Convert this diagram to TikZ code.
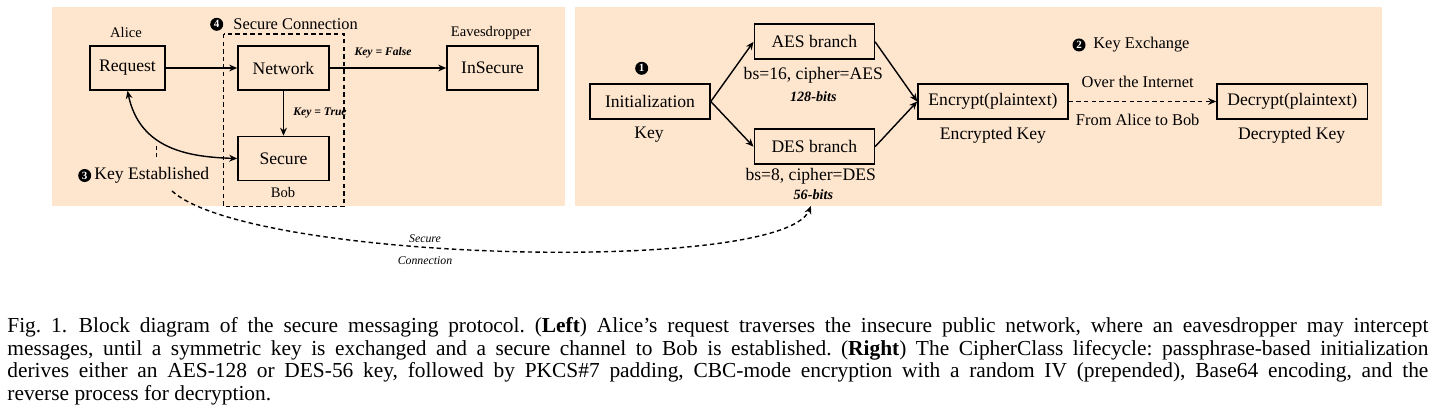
\documentclass[tikz,border=0pt]{standalone}
\usepackage{fontspec}
\setmainfont{Liberation Serif}
\usetikzlibrary{arrows.meta}
\definecolor{panelbg}{RGB}{254,229,206}
\begin{document}
\begin{tikzpicture}[x=0.5pt,y=-0.5pt,
  box/.style={draw, line width=0.8pt, inner sep=0pt, font=\fontsize{8.8}{10}\selectfont},
  lbox/.style={box, minimum height=22pt},
  rbox/.style={box, minimum height=17.5pt},
  conn/.style={-{Stealth[length=4pt,width=3.4pt]}, line width=0.7pt},
  dconn/.style={conn, dash pattern=on 2.2pt off 1.6pt},
  numc/.style={circle, fill=black, text=white, minimum size=6.5pt, inner sep=0pt, font=\fontsize{5.5}{5.5}\selectfont\bfseries},
  lbl/.style={inner sep=0pt, font=\fontsize{8.8}{10}\selectfont},
  mlbl/.style={inner sep=0pt, font=\fontsize{8.2}{10}\selectfont},
  slbl/.style={inner sep=0pt, font=\fontsize{7.3}{9}\selectfont},
  bits/.style={inner sep=0pt, font=\fontsize{7.1}{9}\selectfont\bfseries\itshape},
  keyl/.style={inner sep=0pt, font=\fontsize{5.8}{7}\selectfont\bfseries\itshape},
  itl/.style={inner sep=0pt, font=\fontsize{5.9}{7}\selectfont\itshape},
]
\useasboundingbox (0,0) rectangle (1432,417);
% panels
\fill[panelbg] (52,7) rectangle (565,206);
\fill[panelbg] (575,7) rectangle (1382,206);

% ---------- left panel ----------
\draw[line width=0.8pt, dash pattern=on 2.2pt off 1.6pt] (223.5,34) rectangle (344,206.5);
\node[lbox, minimum width=37.5pt] (req) at (127.5,68) {Request};
\node[lbox, minimum width=45.5pt] (net) at (283.5,68) {Network};
\node[lbox, minimum width=45.5pt] (ins) at (492.5,68) {InSecure};
\node[lbox, minimum width=45.5pt] (sec) at (283.5,158.5) {Secure};
\node[slbl] (alice) at (126,33) {Alice};
\node[slbl] (eaves) at (491,33) {Eavesdropper};
\node[slbl] (bob) at (283,192.5) {Bob};
\node[numc] (n4) at (216.7,24.3) {4};
\node[mlbl, anchor=west] (sc) at (233,24) {Secure Connection};
\node[keyl] (kf) at (383,52.4) {Key = False};
\node[keyl] (kt) at (320,113) {Key = True};
\node[numc] (n3) at (84.7,175.5) {3};
\node[lbl, anchor=west] (ke) at (94,175) {Key Established};

\draw[conn] (req) -- (net);
\draw[conn] (net) -- (ins);
\draw[conn] (net) -- (sec);
\draw[{Stealth[length=4pt,width=3.4pt]}-{Stealth[length=4pt,width=3.4pt]}, line width=0.7pt]
  (req.south) .. controls (140,150) and (190,157) .. (sec.west);
\coordinate (kepin) at (156.5,146);
\draw[line width=0.6pt, dash pattern=on 2pt off 1.5pt] (kepin) -- ++(0,14);

% ---------- right panel ----------
\node[rbox, minimum width=60pt] (init) at (650,101.5) {Initialization};
\node[rbox, minimum width=60pt] (aes) at (814.3,41.8) {AES branch};
\node[rbox, minimum width=60pt] (des) at (814.3,146.7) {DES branch};
\node[rbox, minimum width=75pt] (enc) at (993,101.5) {Encrypt(plaintext)};
\node[rbox, minimum width=75.3pt] (dec) at (1292.3,101.5) {Decrypt(plaintext)};
\node[numc] (n1) at (641.7,68.3) {1};
\node[lbl] (key) at (649,135) {Key};
\node[lbl] (bs16) at (813.3,75) {bs=16, cipher=AES};
\node[bits] (b128) at (813.3,96.7) {128-bits};
\node[lbl] (bs8) at (810.7,176) {bs=8, cipher=DES};
\node[bits] (b56) at (813.3,195) {56-bits};
\node[lbl] (enck) at (993,135) {Encrypted Key};
\node[lbl] (deck) at (1291.7,135) {Decrypted Key};
\node[numc] (n2) at (1079,45) {2};
\node[mlbl, anchor=west] (kx) at (1093,45) {Key Exchange};
\node[mlbl] (oti) at (1137.7,81.7) {Over the Internet};
\node[mlbl] (fab) at (1137.7,120) {From Alice to Bob};

\draw[conn] (init.east) -- (aes.west);
\draw[conn] (init.east) -- (des.west);
\draw[conn] (aes.east) -- (enc.west);
\draw[conn] (des.east) -- (enc.west);
\draw[dconn] (enc) -- (dec);

% ---------- cross-panel secure connection ----------
\coordinate (kestart) at (172,191);
\draw[dconn, shorten >=3pt] (kestart) .. controls (250,262) and (782,275) .. (b56.south);
\node[itl] (scs) at (425,238.3) {Secure};
\node[itl] (scc) at (425,260.7) {Connection};

% ---------- caption ----------
\node[anchor=north west, inner sep=0pt, align=left,
      font=\fontsize{10.7}{11.3}\selectfont\frenchspacing] (cap) at (7,317) {%
\makebox[710.5pt][s]{Fig.~1.\hspace{0.55em}Block diagram of the secure messaging protocol. (\textbf{Left}) Alice’s request traverses the insecure public network, where an eavesdropper may intercept}\\
\makebox[710.5pt][s]{messages, until a symmetric key is exchanged and a secure channel to Bob is established. (\textbf{Right}) The CipherClass lifecycle: passphrase-based initialization}\\
\makebox[710.5pt][s]{derives either an AES-128 or DES-56 key, followed by PKCS\#7 padding, CBC-mode encryption with a random IV (prepended), Base64 encoding, and the}\\
reverse process for decryption.};
\end{tikzpicture}
\end{document}
